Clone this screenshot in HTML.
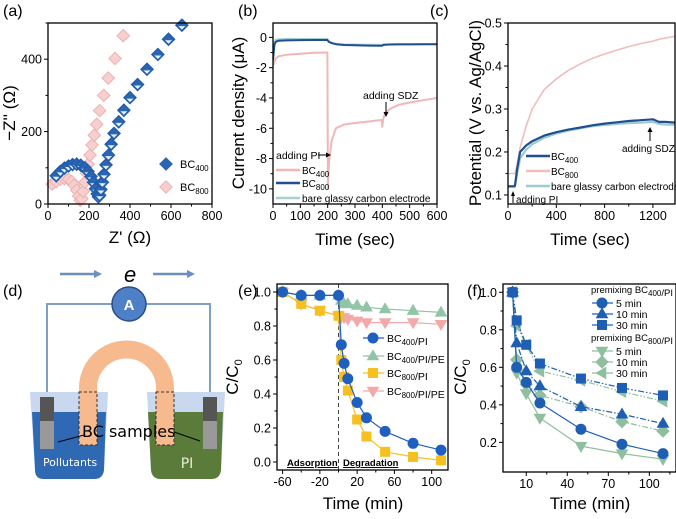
<!DOCTYPE html>
<html><head><meta charset="utf-8"><style>
html,body{margin:0;padding:0;background:#fff}
svg{display:block;font-family:"Liberation Sans",Arial,sans-serif}
</style></head><body>
<svg id="fig" width="676" height="519" viewBox="0 0 676 519" xmlns="http://www.w3.org/2000/svg">
<g>
<text x="3" y="296" font-size="16">(d)</text>
<line x1="60" y1="274" x2="96" y2="274" stroke="#6d8fc0" stroke-width="2.5"/>
<polygon points="94,270 102,274 94,278" fill="#6d8fc0"/>
<text x="124" y="282" font-size="22" font-style="italic">e</text>
<line x1="153" y1="274" x2="189" y2="274" stroke="#6d8fc0" stroke-width="2.5"/>
<polygon points="187,270 195,274 187,278" fill="#6d8fc0"/>
<polyline points="47,400 47,304 210,304 210,400" fill="none" stroke="#7f9fc8" stroke-width="2"/>
<circle cx="129" cy="304" r="17" fill="#4d80c6" stroke="#2c4e86" stroke-width="1.5"/>
<text x="129" y="310" font-size="15" font-weight="bold" fill="#fff" text-anchor="middle">A</text>
<path d="M30,392 L108,392 L104,470 Q103,479 94,479 L44,479 Q35,479 35,470 Z" fill="#c9d8ef"/>
<path d="M32,412 L106,412 L104,470 Q103,479 94,479 L44,479 Q35,479 35,470 Z" fill="#2f69b3"/>
<path d="M147,392 L225,392 L221,470 Q220,479 211,479 L161,479 Q152,479 151,470 Z" fill="#c9d8ef"/>
<path d="M148,412 L223,412 L221,470 Q220,479 211,479 L161,479 Q152,479 151,470 Z" fill="#5a7b3a"/>
<path d="M88,445 L88,388 A38.5,38.5 0 0 1 165,388 L165,445" fill="none" stroke="#f7b98e" stroke-width="18"/>
<rect x="79" y="392" width="18" height="53" fill="none" stroke="#333" stroke-dasharray="3,2" stroke-width="1"/>
<rect x="156" y="392" width="18" height="53" fill="none" stroke="#333" stroke-dasharray="3,2" stroke-width="1"/>
<rect x="40" y="397" width="14" height="24" fill="#555"/>
<rect x="40" y="421" width="14" height="28" fill="#999"/>
<rect x="203" y="397" width="14" height="24" fill="#555"/>
<rect x="203" y="421" width="14" height="28" fill="#999"/>
<line x1="84" y1="435" x2="58" y2="442" stroke="#000"/>
<line x1="174" y1="432" x2="200" y2="441" stroke="#000"/>
<text x="82" y="437" font-size="16" font-family="'DejaVu Sans',sans-serif">BC samples</text>
<text x="70" y="466" font-size="11" fill="#fff" text-anchor="middle" font-family="'DejaVu Sans',sans-serif">Pollutants</text>
<text x="187" y="468" font-size="14" fill="#e8f0d0" text-anchor="middle" font-family="'DejaVu Sans',sans-serif">PI</text>
</g>
</svg>
<script>
// ---------- data ----------
const aX400 = [40,60,80,100,120,140,160,180,195,210,222,232,240,246,252,258,265,273,283,295,308,322,345,370,400,437,483,536,588,653];
const aY400 = [78,90,99,105,109,110,107,100,90,76,60,42,28,20,24,40,60,82,108,135,165,195,227,259,294,330,372,413,455,494];
const aX800 = [20,40,60,80,100,115,128,140,150,158,165,172,180,188,196,205,215,226,238,252,272,294,327,367];
const aY800 = [55,62,68,70,68,62,52,38,22,10,15,35,60,85,110,135,163,190,220,258,300,348,402,465];
const aXTicks = [0,200,400,600,800];
const aYTicks = [0,200,400];

const bT = [0,5,10,20,50,100,150,199,200,201,205,215,230,260,300,350,398,400,403,410,430,460,500,550,600];
const bPink = [-1.9,-1.6,-1.4,-1.25,-1.15,-1.08,-1.02,-1.0,-6,-10,-8.2,-6.8,-6.0,-5.75,-5.65,-5.55,-5.45,-5.9,-5.4,-5.0,-4.7,-4.45,-4.3,-4.15,-4.0];
const bBlue = [-1.5,-0.5,-0.3,-0.22,-0.2,-0.18,-0.17,-0.17,-0.2,-0.22,-0.3,-0.38,-0.45,-0.5,-0.52,-0.54,-0.55,-0.55,-0.5,-0.48,-0.47,-0.46,-0.46,-0.45,-0.45];
const bTeal = [-0.9,-0.3,-0.15,-0.12,-0.1,-0.1,-0.1,-0.1,-0.15,-0.2,-0.28,-0.36,-0.42,-0.46,-0.47,-0.48,-0.48,-0.48,-0.47,-0.46,-0.45,-0.44,-0.44,-0.44,-0.44];
const bXTicks = [0,100,200,300,400,500,600];
const bYTicks = [0,-2,-4,-6,-8,-10];

const cT = [0,55,60,75,100,150,200,300,400,500,600,700,800,900,1000,1100,1200,1250,1300,1400];
const cPink = [0.15,0.15,0.15,0.17,0.21,0.26,0.3,0.345,0.37,0.39,0.405,0.418,0.428,0.437,0.445,0.452,0.458,0.462,0.465,0.47];
const cBlue = [0.12,0.12,0.125,0.16,0.2,0.215,0.225,0.238,0.246,0.252,0.257,0.262,0.266,0.269,0.272,0.274,0.276,0.27,0.27,0.268];
const cTeal = [0.12,0.12,0.125,0.15,0.185,0.205,0.218,0.233,0.243,0.25,0.255,0.26,0.263,0.265,0.267,0.268,0.27,0.265,0.264,0.263];
const cXTicks = [0,400,800,1200];
const cYTicks = [0.1,0.2,0.3,0.4,0.5];

const eTads = [-60,-40,-20,0];
const eTdeg = [3,6,10,20,30,50,80,110];
const eAds400 = [1.0,0.98,0.98,0.98];
const eAds800 = [1.0,0.93,0.89,0.86];
const eBC400PI = [0.69,0.58,0.49,0.35,0.26,0.18,0.11,0.07];
const eBC400PIPE = [0.95,0.93,0.93,0.92,0.91,0.90,0.89,0.88];
const eBC800PI = [0.60,0.50,0.42,0.25,0.15,0.06,0.03,0.01];
const eBC800PIPE = [0.85,0.85,0.84,0.83,0.82,0.82,0.82,0.81];
const eXTicks = [-60,-20,20,60,100];
const eYTicks = [0.0,0.2,0.4,0.6,0.8,1.0];

const fT = [0,3,10,20,50,80,110];
const f400m5 = [1.0,0.60,0.52,0.41,0.27,0.19,0.14];
const f400m10 = [1.0,0.73,0.58,0.50,0.39,0.35,0.30];
const f400m30 = [1.0,0.85,0.72,0.62,0.54,0.49,0.45];
const f800m5 = [1.0,0.57,0.46,0.33,0.18,0.14,0.11];
const f800m10 = [1.0,0.64,0.51,0.45,0.39,0.31,0.26];
const f800m30 = [1.0,0.82,0.72,0.58,0.53,0.47,0.42];
const fXTicks = [10,40,70,100];
const fYTicks = [0.2,0.4,0.6,0.8,1.0];

// ---------- helpers ----------
const NS = "http://www.w3.org/2000/svg";
const svg = document.getElementById('fig');
function mk(tag, attrs, parent, txt){
  const el = document.createElementNS(NS, tag);
  for (const k in attrs) el.setAttribute(k, attrs[k]);
  if (txt !== undefined) el.textContent = txt;
  (parent || svg).appendChild(el);
  return el;
}
function panel(name){
  const g = mk('g', {});
  
  
  return g;
}
function axes(g, box, xd, yd, xt, yt, fmtY, fmtX, minorX, minorY){
  const sx = v => box.x0 + (v - xd[0]) / (xd[1] - xd[0]) * (box.x1 - box.x0);
  const sy = v => box.y1 - (v - yd[0]) / (yd[1] - yd[0]) * (box.y1 - box.y0);
  xt.forEach(v => {
    const t = mk('line', {x1:sx(v), x2:sx(v), y1:box.y1, y2:box.y1+4, stroke:'#000', 'stroke-width':1}, g);
    
    
    const l = mk('text', {x:sx(v), y:box.y1+16, 'font-size':12.5, 'text-anchor':'middle'}, g, fmtX ? fmtX(v) : v);
    
    
  });
  (minorX||[]).forEach(v => {
    const t = mk('line', {x1:sx(v), x2:sx(v), y1:box.y1, y2:box.y1+2.5, stroke:'#000', 'stroke-width':1}, g);
    
    
  });
  yt.forEach(v => {
    const t = mk('line', {x1:box.x0-4, x2:box.x0, y1:sy(v), y2:sy(v), stroke:'#000', 'stroke-width':1}, g);
    
    
    const l = mk('text', {x:box.x0-6, y:sy(v)+4.5, 'font-size':12.5, 'text-anchor':'end'}, g, fmtY ? fmtY(v) : v);
    
    
  });
  (minorY||[]).forEach(v => {
    const t = mk('line', {x1:box.x0-2.5, x2:box.x0, y1:sy(v), y2:sy(v), stroke:'#000', 'stroke-width':1}, g);
    
    
  });
  return {sx, sy};
}
function frame(g, box){
  const r = mk('rect', {x:box.x0, y:box.y0, width:box.x1-box.x0, height:box.y1-box.y0, fill:'none', stroke:'#000', 'stroke-width':1.3}, g);
  
  
}
function clip(id, box){
  const d = mk('defs', {});
  const c = mk('clipPath', {id:id}, d);
  mk('rect', {x:box.x0, y:box.y0, width:box.x1-box.x0, height:box.y1-box.y0}, c);
}
function line(g, xs, ys, s, color, w, dash, name, clipId){
  const pts = xs.map((x,i) => s.sx(x).toFixed(1) + ',' + s.sy(ys[i]).toFixed(1)).join(' ');
  const p = mk('polyline', {points:pts, fill:'none', stroke:color, 'stroke-width':w, 'stroke-linejoin':'round'}, g);
  if (dash) p.setAttribute('stroke-dasharray', dash);
  if (clipId) p.setAttribute('clip-path', 'url(#' + clipId + ')');
  
  
  return p;
}
function marker(g, shape, cx, cy, r, fill, stroke){
  let el;
  if (shape === 'circle') el = mk('circle', {cx, cy, r}, g);
  else if (shape === 'square') el = mk('rect', {x:cx-r*0.9, y:cy-r*0.9, width:r*1.8, height:r*1.8}, g);
  else {
    let p;
    if (shape === 'up') p = [[0,-1.15],[1.1,0.75],[-1.1,0.75]];
    else if (shape === 'down') p = [[0,1.15],[1.1,-0.75],[-1.1,-0.75]];
    else if (shape === 'left') p = [[-1.15,0],[0.75,-1.1],[0.75,1.1]];
    else p = [[0,-1.2],[1.2,0],[0,1.2],[-1.2,0]];
    el = mk('polygon', {points:p.map(q => (cx+q[0]*r).toFixed(1)+','+(cy+q[1]*r).toFixed(1)).join(' ')}, g);
  }
  el.setAttribute('fill', fill);
  el.setAttribute('stroke', stroke || fill);
  el.setAttribute('stroke-width', 1);
  return el;
}
function text(g, x, y, str, size, name, attrs){
  const t = mk('text', Object.assign({x, y, 'font-size':size}, attrs||{}), g);
  t.innerHTML = str;
  
  
  return t;
}
function vtitle(g, x, y, str, name){
  const t = mk('text', {x:0, y:0, 'font-size':17, 'text-anchor':'middle', transform:'translate('+x+','+y+') rotate(-90)'}, g);
  t.innerHTML = str;
  
  
}
const sub = s => '<tspan font-size="8" dy="3">' + s + '</tspan><tspan dy="-3"></tspan>';

// ---------- panel a ----------
(function(){
  const g = panel('panel-a-nyquist');
  const box = {x0:48, x1:212, y0:23, y1:204};
  text(g, 3, 16, '(a)', 16, 'panel-label-a');
  const s = axes(g, box, [0,800], [0,500], aXTicks, aYTicks, null, null, [100,300,500,700], [100,300,500]);
  aX800.forEach((x,i) => {
    const m = marker(g, 'diamond', s.sx(x), s.sy(aY800[i]), 5.2, '#f6cfcf', '#efb0b0');
    
    
  });
  aX400.forEach((x,i) => {
    const m = marker(g, 'diamond', s.sx(x), s.sy(aY400[i]), 5.2, '#2a65b3', '#1d5aa8');
    
    
    const h = mk('polygon', {points:[[s.sx(x)-3.5, s.sy(aY400[i])+1],[s.sx(x)+3.5, s.sy(aY400[i])+1],[s.sx(x), s.sy(aY400[i])+4.5]].map(p=>p.join(',')).join(' '), fill:'#e6eef8'}, g);
    
    
  });
  frame(g, box);
  const l1 = marker(g, 'diamond', 166, 164, 5.2, '#2a65b3');
  
  
  text(g, 180, 168, 'BC' + sub('400'), 11, 'legend-label-bc400');
  const l2 = marker(g, 'diamond', 166, 187, 5.2, '#f6cfcf', '#efb0b0');
  
  
  text(g, 180, 191, 'BC' + sub('800'), 11, 'legend-label-bc800');
  text(g, 130, 243, "Z' (Ω)", 17, 'x-axis-title', {'text-anchor':'middle'});
  vtitle(g, 15, 113, "−Z'' (Ω)", 'y-axis-title');
})();

// ---------- panel b ----------
(function(){
  const g = panel('panel-b-current');
  const box = {x0:273, x1:437, y0:23, y1:204};
  clip('clipb', box);
  text(g, 238, 16, '(b)', 16, 'panel-label-b');
  const s = axes(g, box, [0,600], [-11,0.95], bXTicks, bYTicks, v => v===0?'0':'-'+Math.abs(v), null, [50,150,250,350,450,550], [-1,-3,-5,-7,-9]);
  line(g, bT, bTeal, s, '#a9d0d0', 2, null, 'bare-electrode-line', 'clipb');
  line(g, bT, bBlue, s, '#1f4f90', 2, null, 'bc800-line', 'clipb');
  line(g, bT, bPink, s, '#f0b7b7', 2, null, 'bc400-line', 'clipb');
  frame(g, box);
  text(g, 276, 159, 'adding PI', 10.5, 'annotation-adding-pi');
  const a1 = mk('line', {x1:318, y1:155, x2:327, y2:155, stroke:'#000'}, g);
  
  
  const h1 = mk('polygon', {points:'326,152.5 331,155 326,157.5', fill:'#000'}, g);
  
  
  text(g, 363, 99, 'adding SDZ', 10.5, 'annotation-adding-sdz');
  const a2 = mk('line', {x1:386, y1:102, x2:386, y2:113, stroke:'#000'}, g);
  
  
  const h2 = mk('polygon', {points:'383.5,112 386,117 388.5,112', fill:'#000'}, g);
  
  
  [['#f0b7b7',170,'BC'+sub('400'),'legend-bc400'],['#1f4f90',183,'BC'+sub('800'),'legend-bc800'],['#a9d0d0',198,'bare glassy carbon electrode','legend-bare']].forEach(r => {
    const l = mk('line', {x1:276, x2:300, y1:r[1], y2:r[1], stroke:r[0], 'stroke-width':2.5}, g);
    
    
    text(g, 302, r[1]+4, r[2], 10, r[3] + '-label');
  });
  text(g, 355, 245, 'Time (sec)', 17, 'x-axis-title', {'text-anchor':'middle'});
  vtitle(g, 244, 113, 'Current density (μA)', 'y-axis-title');
})();

// ---------- panel c ----------
(function(){
  const g = panel('panel-c-potential');
  const box = {x0:508, x1:675, y0:23, y1:204};
  clip('clipc', box);
  text(g, 430, 16, '(c)', 16, 'panel-label-c');
  const s = axes(g, box, [0,1383], [0.079,0.5], cXTicks, cYTicks, v => v.toFixed(1), null, [200,600,1000], [0.15,0.25,0.35,0.45]);
  line(g, cT, cPink, s, '#f0bcbc', 1.6, null, 'bc800-line', 'clipc');
  line(g, cT, cTeal, s, '#9ccccc', 2.2, null, 'bare-electrode-line', 'clipc');
  line(g, cT, cBlue, s, '#1f4f90', 2.2, null, 'bc400-line', 'clipc');
  frame(g, box);
  [['#1f4f90',156,'BC'+sub('400'),'legend-bc400'],['#f0bcbc',171,'BC'+sub('800'),'legend-bc800'],['#9ccccc',186,'bare glassy carbon electrode','legend-bare']].forEach(r => {
    const l = mk('line', {x1:526, x2:550, y1:r[1], y2:r[1], stroke:r[0], 'stroke-width':2.5}, g);
    
    
    text(g, 551, r[1]+4, r[2], 10, r[3] + '-label');
  });
  text(g, 622, 152, 'adding SDZ', 10, 'annotation-adding-sdz');
  const a2 = mk('line', {x1:650, y1:141, x2:650, y2:131, stroke:'#000'}, g);
  
  
  const h2 = mk('polygon', {points:'647.5,132 650,127 652.5,132', fill:'#000'}, g);
  
  
  text(g, 516, 203, 'adding PI', 10, 'annotation-adding-pi');
  const a1 = mk('line', {x1:513, y1:203, x2:513, y2:195, stroke:'#000'}, g);
  
  
  const h1 = mk('polygon', {points:'511,196 513,191 515,196', fill:'#000'}, g);
  
  
  text(g, 590, 245, 'Time (sec)', 17, 'x-axis-title', {'text-anchor':'middle'});
  vtitle(g, 481, 113, 'Potential (V vs. Ag/AgCl)', 'y-axis-title');
})();

// ---------- panel e ----------
(function(){
  const g = panel('panel-e-degradation');
  const box = {x0:277, x1:448, y0:284, y1:470};
  text(g, 238, 296, '(e)', 16, 'panel-label-e');
  const s = axes(g, box, [-66,117.5], [-0.047,1.047], eXTicks, eYTicks, v => v.toFixed(1), null, [-40,0,40,80], [0.1,0.3,0.5,0.7,0.9]);
  const dl = mk('line', {x1:s.sx(0), x2:s.sx(0), y1:box.y0, y2:box.y1, stroke:'#444', 'stroke-dasharray':'4,3'}, g);
  
  
  const series = [
    [eAds800, eBC800PIPE, '#f3a9a9', 'down', 'bc800-pi-pe'],
    [eAds400, eBC400PIPE, '#92c4a8', 'up', 'bc400-pi-pe'],
    [eAds800, eBC800PI, '#f5c020', 'square', 'bc800-pi'],
    [eAds400, eBC400PI, '#1f5fbf', 'circle', 'bc400-pi']
  ];
  series.forEach(sr => {
    const xs = eTads.concat(eTdeg), ys = sr[0].concat(sr[1]);
    line(g, xs, ys, s, sr[2], 1.2, null, sr[4] + '-line');
    xs.forEach((x,i) => {
      const m = marker(g, sr[3], s.sx(x), s.sy(ys[i]), 5, sr[2]);
      
      
    });
  });
  frame(g, box);
  const leg = [['#1f5fbf','circle',338,'BC'+sub('400')+'/PI','legend-bc400-pi'],['#92c4a8','up',356,'BC'+sub('400')+'/PI/PE','legend-bc400-pi-pe'],['#f5c020','square',373,'BC'+sub('800')+'/PI','legend-bc800-pi'],['#f3a9a9','down',391,'BC'+sub('800')+'/PI/PE','legend-bc800-pi-pe']];
  leg.forEach(r => {
    const l = mk('line', {x1:363, x2:384, y1:r[2], y2:r[2], stroke:r[0], 'stroke-width':1.3}, g);
    
    
    const m = marker(g, r[1], 373, r[2], 5, r[0]);
    
    
    text(g, 387, r[2]+4, r[3], 10.5, r[4] + '-label');
  });
  text(g, 287, 466, 'Adsorption', 9.5, 'adsorption-label', {'font-weight':'bold', 'text-decoration':'underline'});
  text(g, 343, 466, 'Degradation', 9.5, 'degradation-label', {'font-weight':'bold', 'text-decoration':'underline'});
  text(g, 363, 509, 'Time (min)', 17, 'x-axis-title', {'text-anchor':'middle'});
  vtitle(g, 238, 377, 'C/C' + '<tspan font-size="11" dy="4">0</tspan>', 'y-axis-title');
})();

// ---------- panel f ----------
(function(){
  const g = panel('panel-f-premixing');
  const box = {x0:503, x1:676, y0:284, y1:472};
  text(g, 467, 296, '(f)', 16, 'panel-label-f');
  const s = axes(g, box, [-7,119.5], [0.042,1.044], fXTicks, fYTicks, v => v.toFixed(1), null, [25,55,85,115], [0.3,0.5,0.7,0.9]);
  const G = '#8fbf9f', B = '#1e5fb4';
  const series = [
    [f800m30, G, 'left', '6,2,1.5,2,1.5,2', 'bc800-30min'],
    [f800m10, G, 'diamond', '6,2,1.5,2', 'bc800-10min'],
    [f800m5, G, 'down', null, 'bc800-5min'],
    [f400m30, B, 'square', '6,2,1.5,2,1.5,2', 'bc400-30min'],
    [f400m10, B, 'up', '6,2,1.5,2', 'bc400-10min'],
    [f400m5, B, 'circle', null, 'bc400-5min']
  ];
  series.forEach(sr => {
    line(g, fT, sr[0], s, sr[1], 1.2, sr[3], sr[4] + '-line');
    fT.forEach((x,i) => {
      const m = marker(g, sr[2], s.sx(x), s.sy(sr[0][i]), 5, sr[1]);
      
      
    });
  });
  frame(g, box);
  text(g, 591, 293, 'premixing BC' + sub('400') + '/PI', 9.5, 'legend-title-bc400');
  text(g, 591, 341, 'premixing BC' + sub('800') + '/PI', 9.5, 'legend-title-bc800');
  const leg = [[B,'circle',303,'5 min',null,'legend-bc400-5min'],[B,'up',314,'10 min','6,2,1.5,2','legend-bc400-10min'],[B,'square',325,'30 min','6,2,1.5,2,1.5,2','legend-bc400-30min'],
    [G,'down',351,'5 min',null,'legend-bc800-5min'],[G,'diamond',362,'10 min','6,2,1.5,2','legend-bc800-10min'],[G,'left',373,'30 min','6,2,1.5,2,1.5,2','legend-bc800-30min']];
  leg.forEach(r => {
    const l = mk('line', {x1:592, x2:613, y1:r[2], y2:r[2], stroke:r[0], 'stroke-width':1.3}, g);
    
    
    const m = marker(g, r[1], 602, r[2], 5, r[0]);
    
    
    text(g, 616, r[2]+4, r[3], 10.5, r[5] + '-label');
  });
  text(g, 590, 509, 'Time (min)', 17, 'x-axis-title', {'text-anchor':'middle'});
  vtitle(g, 466, 377, 'C/C' + '<tspan font-size="11" dy="4">0</tspan>', 'y-axis-title');
})();
</script>
</body></html>
